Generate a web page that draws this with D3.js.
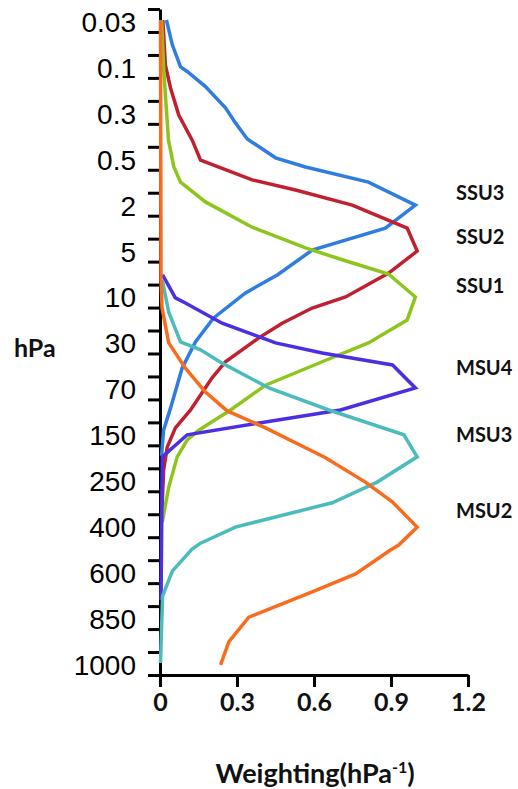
<!DOCTYPE html>
<html lang="en">
<head>
    <meta charset="UTF-8">
    <title>Weighting functions</title>
    <style>
        body {
            margin: 0;
            padding: 0;
            background: #fff;
        }
        #chart {
            width: 518px;
            height: 789px;
        }
    </style>
</head>
<body>
    <div id="chart"></div>
    <script src="https://d3js.org/d3.v7.min.js"></script>
    <script>
        // pressure levels shown on the y axis (evenly spaced categories)
        var pressureLabels = ["0.03", "0.1", "0.3", "0.5", "2", "5", "10", "30", "70", "150", "250", "400", "600", "850", "1000"];
        var xTicks = [0, 0.3, 0.6, 0.9, 1.2];

        // each point: [weighting, position along the pressure axis (0 = 0.03 hPa ... 14 = 1000 hPa)]
        var ssu3 = [[0.025, -0.26], [0.048, 0.28], [0.080, 0.76], [0.106, 0.86], [0.177, 1.19], [0.255, 1.65],
            [0.294, 1.98], [0.340, 2.33], [0.450, 2.74], [0.567, 2.94], [0.812, 3.27], [0.995, 3.77],
            [0.878, 4.27], [0.593, 4.75], [0.457, 5.29], [0.333, 5.68], [0.208, 6.23], [0.138, 6.75],
            [0.086, 7.32], [0.041, 8.19], [0.014, 8.67], [0.006, 9.23]];
        var ssu2 = [[0.011, -0.26], [0.021, 0.72], [0.041, 1.22], [0.073, 1.81], [0.125, 2.35], [0.158, 2.79],
            [0.359, 3.22], [0.528, 3.44], [0.749, 3.77], [0.963, 4.27], [1.002, 4.77], [0.891, 5.25],
            [0.723, 5.77], [0.593, 6.01], [0.476, 6.34], [0.385, 6.66], [0.255, 7.18], [0.203, 7.53],
            [0.119, 8.23], [0.060, 8.62], [0.028, 9.04], [0.014, 9.54], [0.008, 10.36]];
        var ssu1 = [[0.006, -0.26], [0.015, 0.87], [0.033, 2.35], [0.054, 2.94], [0.080, 3.27], [0.177, 3.70],
            [0.359, 4.25], [0.567, 4.70], [0.710, 4.96], [0.890, 5.27], [0.995, 5.77], [0.963, 6.27],
            [0.812, 6.77], [0.632, 7.18], [0.411, 7.69], [0.275, 8.23], [0.151, 8.67], [0.106, 8.88],
            [0.067, 9.25], [0.034, 9.91], [0.009, 10.67]];
        var msu4 = [[0.010, 5.29], [0.060, 5.79], [0.099, 5.90], [0.242, 6.34], [0.450, 6.77], [0.632, 6.99],
            [0.906, 7.25], [0.995, 7.75], [0.703, 8.23], [0.411, 8.49], [0.106, 8.77], [0.009, 9.25],
            [0.004, 12.37]];
        var msu3 = [[0.009, 5.40], [0.034, 6.10], [0.080, 6.75], [0.158, 6.92], [0.242, 7.21], [0.424, 7.75],
            [0.658, 8.23], [0.950, 8.77], [1.002, 9.25], [0.846, 9.80], [0.671, 10.25], [0.450, 10.56],
            [0.294, 10.78], [0.158, 11.13], [0.125, 11.26], [0.048, 11.74], [0.010, 12.28], [0.002, 13.74]];
        var msu2 = [[0.002, -0.26], [0.004, 5.40], [0.008, 6.01], [0.034, 6.77], [0.099, 7.32], [0.177, 7.84],
            [0.262, 8.25], [0.411, 8.62], [0.645, 9.27], [0.800, 9.80], [0.905, 10.23], [1.002, 10.78],
            [0.930, 11.17], [0.898, 11.28], [0.762, 11.80], [0.593, 12.19], [0.346, 12.74], [0.268, 13.28],
            [0.236, 13.78]];

        var seriesNames = ["SSU3", "SSU2", "SSU1", "MSU4", "MSU3", "MSU2"];
        var seriesData = [ssu3, ssu2, ssu1, msu4, msu3, msu2];
        var seriesColors = ["#2f7de1", "#c0202f", "#8dc51c", "#4b2fe0", "#4bbcbb", "#f86c1e"];
        // label anchor on the pressure axis for each curve name
        var labelLevels = [3.55, 4.5, 5.58, 7.35, 8.82, 10.47];

        var width = 518, height = 789;

        var x = d3.scaleLinear().domain([0, 1.2]).range([160, 468]);
        var y = d3.scaleLinear().domain([-0.5, 14]).range([9, 675]);

        var svg = d3.select("#chart")
            .append("svg")
            .attr("width", width)
            .attr("height", height);

        var line = d3.line()
            .x(d => x(d[0]))
            .y(d => y(d[1]));

        // y axis: a tick at every category and one half way between
        var yTickVals = d3.range(-0.5, 14.01, 0.5);
        var yAxis = d3.axisLeft(y)
            .tickValues(yTickVals)
            .tickSize(12)
            .tickSizeOuter(0)
            .tickPadding(12)
            .tickFormat(d => Number.isInteger(d) ? pressureLabels[d] : "");

        var gy = svg.append("g")
            .attr("transform", "translate(160,0)")
            .call(yAxis);
        gy.select(".domain").attr("stroke", "#000").attr("stroke-width", 3);
        gy.selectAll(".tick line").attr("stroke", "#000").attr("stroke-width", 3);
        gy.selectAll(".tick text")
            .attr("dy", "0")
            .attr("y", -8)
            .attr("dominant-baseline", "middle")
            .style("font-family", "'Liberation Sans', Arial, sans-serif")
            .style("font-size", "28px")
            .style("fill", "#000");

        // x axis
        var xAxis = d3.axisBottom(x)
            .tickValues(xTicks)
            .tickSize(12)
            .tickSizeOuter(0)
            .tickPadding(6)
            .tickFormat(d => d === 0 ? "0" : d3.format(".1f")(d));

        var gx = svg.append("g")
            .attr("transform", "translate(0,675)")
            .call(xAxis);
        gx.select(".domain").attr("stroke", "#000").attr("stroke-width", 3);
        gx.selectAll(".tick line").attr("stroke", "#000").attr("stroke-width", 3);
        gx.selectAll(".tick text")
            .style("font-family", "Lato, 'Open Sans', sans-serif")
            .style("font-weight", "bold")
            .style("font-size", "25px")
            .style("fill", "#111");

        // curves
        svg.selectAll(".curve")
            .data(seriesData)
            .enter()
            .append("path")
            .attr("class", "curve")
            .attr("d", line)
            .attr("fill", "none")
            .attr("stroke", (d, i) => seriesColors[i])
            .attr("stroke-width", 3.5)
            .attr("stroke-linejoin", "miter");

        // curve names on the right
        svg.selectAll(".name")
            .data(seriesNames)
            .enter()
            .append("text")
            .attr("class", "name")
            .attr("x", 456)
            .attr("y", (d, i) => y(labelLevels[i]))
            .attr("dominant-baseline", "middle")
            .style("font-family", "Lato, 'Open Sans', sans-serif")
            .style("font-weight", "bold")
            .style("font-size", "20px")
            .style("fill", "#111")
            .text(d => d);

        // axis titles
        svg.append("text")
            .attr("x", 14)
            .attr("y", 351)
            .attr("dominant-baseline", "middle")
            .style("font-family", "Lato, 'Open Sans', sans-serif")
            .style("font-weight", "bold")
            .style("font-size", "25px")
            .style("fill", "#111")
            .text("hPa");

        var title = svg.append("text")
            .attr("x", 315)
            .attr("y", 783)
            .style("text-anchor", "middle")
            .style("font-family", "Lato, 'Open Sans', sans-serif")
            .style("font-weight", "bold")
            .style("font-size", "27px")
            .style("fill", "#111");
        title.append("tspan").text("Weighting(hPa");
        title.append("tspan").attr("dy", -10).style("font-size", "16px").text("-1");
        title.append("tspan").attr("dy", 10).text(")");
    </script>
</body>
</html>
